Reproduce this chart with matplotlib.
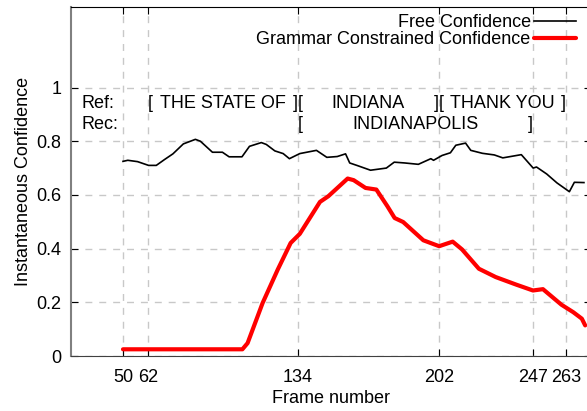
import matplotlib
matplotlib.use("Agg")
import matplotlib.pyplot as plt

plt.rcParams['font.family'] = ['Liberation Sans', 'DejaVu Sans']

# free (unconstrained) confidence
free_frames = [50, 52.3, 57, 62.3, 66, 70, 74, 79, 84.8, 87.2, 93, 97.8, 101, 107.2,
               110.8, 116.5, 118.9, 123, 127, 130, 135, 143, 148, 153, 157, 159,
               162.8, 169, 176.6, 180.4, 185.5, 192, 198, 199.3, 203.4, 207.4, 210,
               214.7, 217.2, 222.8, 228.5, 232.6, 241.5, 247.2, 248.8, 253.7, 258.6,
               264.6, 267, 271.6]
free_conf = [0.725, 0.729, 0.724, 0.71, 0.71, 0.732, 0.753, 0.79, 0.807, 0.80, 0.759,
             0.759, 0.742, 0.742, 0.781, 0.795, 0.788, 0.764, 0.754, 0.735, 0.754,
             0.766, 0.74, 0.743, 0.753, 0.719, 0.709, 0.692, 0.70, 0.722, 0.719,
             0.714, 0.735, 0.729, 0.747, 0.757, 0.785, 0.793, 0.766, 0.755, 0.749,
             0.738, 0.75, 0.70, 0.704, 0.678, 0.645, 0.612, 0.647, 0.646]

# grammar constrained confidence
gram_frames = [50, 107.4, 109.9, 117.1, 124.4, 130.6, 135, 144.7, 148.7, 158, 160.9,
               166.6, 171.8, 177.1, 180.6, 184.7, 194.4, 202, 208.5, 213, 221.1,
               229.2, 239, 247.1, 251.9, 260.8, 266.5, 270.6, 272.2]
gram_conf = [0.025, 0.025, 0.048, 0.197, 0.322, 0.421, 0.455, 0.574, 0.595, 0.661,
             0.655, 0.626, 0.62, 0.558, 0.514, 0.499, 0.431, 0.409, 0.426, 0.397,
             0.325, 0.294, 0.266, 0.244, 0.249, 0.191, 0.163, 0.139, 0.114]

xticks = [50, 62, 134, 202, 247, 263]
yticks = [0, 0.2, 0.4, 0.6, 0.8, 1]
ytick_labels = ['0', '0.2', '0.4', '0.6', '0.8', '1']

ref_words = ['THE STATE OF', 'INDIANA', 'THANK YOU']
ref_bounds = [62, 134, 202, 263]
rec_words = ['INDIANAPOLIS']
rec_bounds = [134, 247]

fig = plt.figure(figsize=(5.87, 4.11), dpi=100)
ax = fig.add_axes([71 / 587, 55 / 411, 520 / 587, 349 / 411])

ax.plot(free_frames, free_conf, color='black', lw=1.2, label='Free Confidence')
ax.plot(gram_frames, gram_conf, color='#ff0000', lw=3, solid_capstyle='round',
        label='Grammar Constrained Confidence')

ax.set_xlim(25, 275)
ax.set_ylim(0, 1.3)
ax.set_xticks(xticks)
ax.set_xticklabels([str(t) for t in xticks])
ax.set_yticks(yticks)
ax.set_yticklabels(ytick_labels)
ax.grid(True, color='#c8c8c8', linestyle=(0, (5, 5)), lw=1)
ax.tick_params(axis='both', direction='in', length=5, labelsize=13,
               top=True, right=True)
ax.tick_params(axis='x', pad=9)
ax.tick_params(axis='y', pad=7)

ax.spines['left'].set_color('#808080')
ax.spines['left'].set_linewidth(1.5)
ax.spines['bottom'].set_color('#404040')
ax.spines['top'].set_color('black')
ax.spines['right'].set_visible(False)

ax.set_xlabel('Frame number', fontsize=13, labelpad=3)
ax.set_ylabel('Instantaneous Confidence', fontsize=13, labelpad=3)

# word alignment rows
row_ref, row_rec = 0.941, 0.863
ax.text(30, row_ref, 'Ref:', fontsize=13, va='center', ha='left')
ax.text(30, row_rec, 'Rec:', fontsize=13, va='center', ha='left')
for words, bounds, row in [(ref_words, ref_bounds, row_ref), (rec_words, rec_bounds, row_rec)]:
    for i, w in enumerate(words):
        a, b = bounds[i], bounds[i + 1]
        ax.text(a, row, '[', fontsize=13, va='center', ha='left')
        ax.text(b, row, ']', fontsize=13, va='center', ha='right')
        ax.text((a + b) / 2, row, w, fontsize=13, va='center', ha='center')

leg = ax.legend(loc='upper right', frameon=False, fontsize=13, markerfirst=False,
                handlelength=2.3, handletextpad=0.2, labelspacing=0.0,
                borderaxespad=0.0, bbox_to_anchor=((583 - 71) / 520, 1.0),
                bbox_transform=ax.transAxes)
for t in leg.get_texts():
    t.set_ha('right')

fig.savefig('out.png', dpi=100)
